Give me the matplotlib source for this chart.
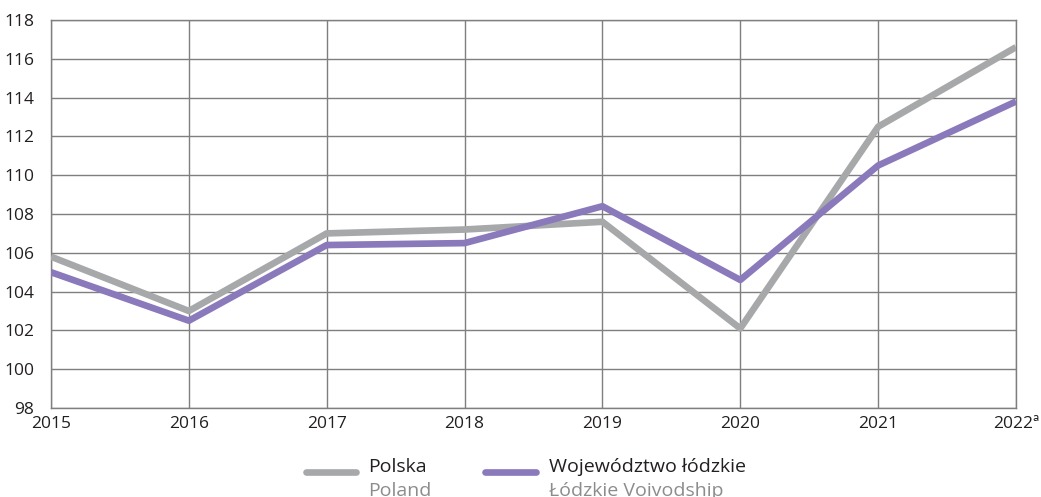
import matplotlib.pyplot as plt
from matplotlib.lines import Line2D

plt.rcParams['font.family'] = ['Open Sans', 'DejaVu Sans']

years = [2015, 2016, 2017, 2018, 2019, 2020, 2021, 2022]
year_labels = ['2015', '2016', '2017', '2018', '2019', '2020', '2021', '2022ª']
polska = [105.8, 103.0, 107.0, 107.2, 107.6, 102.1, 112.5, 116.6]
lodzkie = [105.0, 102.5, 106.4, 106.5, 108.4, 104.6, 110.5, 113.8]

grey = '#a7a8aa'
purple = '#8a79bb'
grid = '#7f7f7f'

fig = plt.figure(figsize=(10.41, 4.97), dpi=100)
ax = fig.add_axes([51 / 1041, 1 - 408 / 497, (1016 - 51) / 1041, (408 - 20) / 497])

ax.plot(years, polska, color=grey, lw=4.8, solid_capstyle='butt', zorder=3)
ax.plot(years, lodzkie, color=purple, lw=4.8, solid_capstyle='butt', zorder=4)

ax.set_xlim(2015, 2022)
ax.set_ylim(98, 118)
ax.set_yticks(range(98, 119, 2))
ax.set_xticks(years)
ax.set_xticklabels(year_labels)
ax.grid(True, color=grid, lw=1)
for s in ax.spines.values():
    s.set_color(grid)
    s.set_linewidth(1)
ax.tick_params(length=0, labelsize=12.5, colors='#231f20')
ax.tick_params(axis='y', pad=12)
ax.tick_params(axis='x', pad=6)

# legend
def leg(x0, x1, tx, name, name_en, color):
    fig.add_artist(Line2D([x0 / 1041, x1 / 1041], [1 - 472 / 497] * 2,
                          color=color, lw=4.8, solid_capstyle='round'))
    fig.text(tx / 1041, 1 - 467 / 497, name, fontsize=14, color='#231f20', va='center')
    fig.text(tx / 1041, 1 - 491 / 497, name_en, fontsize=14, color='#8c8c8c', va='center')

leg(306, 356, 368, 'Polska', 'Poland', grey)
leg(485, 536, 549, 'Województwo łódzkie', 'Łódzkie Voivodship', purple)

fig.savefig('out.png', dpi=100)
